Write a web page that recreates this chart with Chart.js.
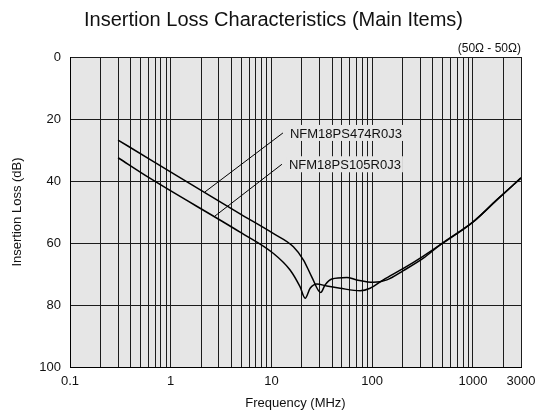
<!DOCTYPE html>
<html>
<head>
<meta charset="utf-8">
<script src="https://cdn.jsdelivr.net/npm/chart.js@4/dist/chart.umd.min.js"></script>
<style>
  html, body { margin: 0; padding: 0; background: #fff; }
  #wrap { width: 547px; height: 414px; position: relative; }
</style>
</head>
<body>
<div id="wrap"><canvas id="lossChart"></canvas></div>
<script>
// Frequency points (MHz) and insertion loss (dB)
const freq474 = [0.3, 0.62, 4.88, 10.4, 16.5, 20.8, 25.1, 30.8, 34.1, 39.7, 56, 70.3, 103, 140, 204, 322, 472, 1012, 1726, 3000];
const loss474 = [26.8, 33.0, 50.6, 56.9, 61.2, 65.5, 70.9, 76.0, 73.5, 71.6, 71.1, 71.9, 72.7, 71.9, 68.9, 64.9, 60.6, 53.1, 46.1, 39];
const freq105 = [0.3, 0.62, 4.88, 10.4, 15.3, 19.2, 21.6, 24.2, 28.2, 35.4, 48, 75.9, 95.3, 129, 204, 322, 472, 1012, 1726, 3000];
const loss105 = [32.5, 39.1, 56.5, 63.3, 68.7, 74.1, 77.8, 74.6, 73.2, 73.9, 74.6, 75.4, 74.6, 71.9, 68.2, 64.2, 60.6, 53.1, 46.1, 39];
const seriesNames = ['NFM18PS474R0J3', 'NFM18PS105R0J3'];
const xTickLabels = [0.1, 1, 10, 100, 1000, 3000];
const yTickStep = 20;

const FONT = '"Liberation Sans", Arial, Helvetica, sans-serif';
const PLOT_BG = '#e6e6e6';
const GRID = '#1c1c1c';

// gridlines at 1..9 x every decade between 0.1 and 3000
const gridValues = [];
for (let e = -1; e <= 3; e++) {
    for (let m = 1; m <= 9; m++) {
        const v = Number((m * Math.pow(10, e)).toPrecision(3));
        if (v <= 3000) gridValues.push(v);
    }
}

// leader-line callouts: label, text anchor (x, y), point on the curve (x, y)
const callouts = [
    { text: seriesNames[0], from: [13.0, 24.5], to: [2.19, 43.5] },
    { text: seriesNames[1], from: [12.7, 34.6], to: [2.75, 51.3] }
];

const plotExtras = {
    id: 'plotExtras',
    beforeDraw(chart) {
        const { ctx, chartArea: a } = chart;
        ctx.save();
        ctx.fillStyle = PLOT_BG;
        ctx.fillRect(a.left, a.top, a.right - a.left, a.bottom - a.top);
        ctx.restore();
    },
    afterDatasetsDraw(chart) {
        const { ctx, chartArea: a } = chart;
        const xs = chart.scales.x, ys = chart.scales.y;
        ctx.save();
        ctx.font = '13px ' + FONT;
        ctx.textBaseline = 'middle';
        callouts.forEach(c => {
            const x1 = xs.getPixelForValue(c.from[0]), y1 = ys.getPixelForValue(c.from[1]);
            const x2 = xs.getPixelForValue(c.to[0]), y2 = ys.getPixelForValue(c.to[1]);
            const w = ctx.measureText(c.text).width;
            ctx.fillStyle = PLOT_BG;
            ctx.fillRect(x1 + 5, y1 - 8, w + 4, 16);
            ctx.strokeStyle = '#000';
            ctx.lineWidth = 1;
            ctx.beginPath();
            ctx.moveTo(x1, y1);
            ctx.lineTo(x2, y2);
            ctx.stroke();
            ctx.fillStyle = '#111';
            ctx.textAlign = 'left';
            ctx.fillText(c.text, x1 + 7, y1 + 1);
        });
        // impedance note above the plot
        ctx.font = '12px ' + FONT;
        ctx.textAlign = 'right';
        ctx.textBaseline = 'bottom';
        ctx.fillStyle = '#111';
        ctx.fillText('(50Ω - 50Ω)', a.right, a.top - 2);
        ctx.restore();
    }
};

const ctx = document.getElementById('lossChart').getContext('2d');
const lossChart = new Chart(ctx, {
    type: 'line',
    data: {
        datasets: [
            {
                label: seriesNames[0],
                data: freq474.map((f, i) => ({ x: f, y: loss474[i] })),
                borderColor: '#000',
                borderWidth: 1.5,
                pointRadius: 0,
                cubicInterpolationMode: 'monotone',
                fill: false
            },
            {
                label: seriesNames[1],
                data: freq105.map((f, i) => ({ x: f, y: loss105[i] })),
                borderColor: '#000',
                borderWidth: 1.5,
                pointRadius: 0,
                cubicInterpolationMode: 'monotone',
                fill: false
            }
        ]
    },
    options: {
        responsive: true,
        maintainAspectRatio: false,
        animation: false,
        layout: { padding: 0 },
        plugins: {
            legend: { display: false },
            tooltip: { enabled: false },
            title: {
                display: true,
                text: 'Insertion Loss Characteristics (Main Items)',
                color: '#111',
                font: { family: FONT, size: 20, weight: 'normal' },
                padding: { top: 8, bottom: 25 }
            }
        },
        scales: {
            x: {
                type: 'logarithmic',
                min: 0.1,
                max: 3000,
                afterBuildTicks: scale => {
                    scale.ticks = gridValues.map(v => ({ value: v }));
                },
                afterFit: scale => {
                    scale.height = 47;
                    scale.paddingRight = 26;
                    scale.paddingLeft = 0;
                },
                ticks: {
                    autoSkip: false,
                    maxRotation: 0,
                    padding: 7,
                    color: '#111',
                    font: { family: FONT, size: 13 },
                    callback: v => xTickLabels.some(t => Math.abs(t - v) < 1e-9) ? String(v) : ''
                },
                grid: { color: GRID, lineWidth: 1, drawTicks: false },
                border: { color: '#000', width: 1 },
                title: {
                    display: true,
                    text: 'Frequency (MHz)',
                    color: '#111',
                    font: { family: FONT, size: 13 },
                    padding: { top: 0, bottom: 3 }
                }
            },
            y: {
                type: 'linear',
                reverse: true,
                min: 0,
                max: 100,
                afterFit: scale => { scale.width = 70; },
                ticks: {
                    stepSize: yTickStep,
                    padding: 9,
                    color: '#111',
                    font: { family: FONT, size: 13 }
                },
                grid: { color: GRID, lineWidth: 1, drawTicks: false },
                border: { color: '#000', width: 1 },
                title: {
                    display: true,
                    text: 'Insertion Loss (dB)',
                    color: '#111',
                    font: { family: FONT, size: 13 },
                    padding: { top: 10, bottom: 0 }
                }
            }
        }
    },
    plugins: [plotExtras]
});
</script>
</body>
</html>
